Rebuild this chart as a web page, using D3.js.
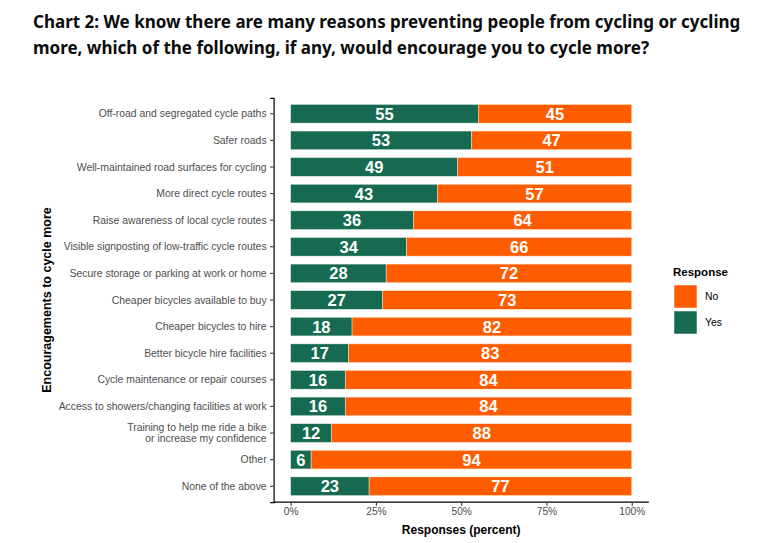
<!DOCTYPE html>
<html>
<head>
<meta charset="utf-8">
<script src="https://cdn.jsdelivr.net/npm/d3@7"></script>
<style>
  body { margin: 0; background: #fff; }
  svg { display: block; }
</style>
</head>
<body>
<script>
// categories, top to bottom
const categories = [
  'Off-road and segregated cycle paths',
  'Safer roads',
  'Well-maintained road surfaces for cycling',
  'More direct cycle routes',
  'Raise awareness of local cycle routes',
  'Visible signposting of low-traffic cycle routes',
  'Secure storage or parking at work or home',
  'Cheaper bicycles available to buy',
  'Cheaper bicycles to hire',
  'Better bicycle hire facilities',
  'Cycle maintenance or repair courses',
  'Access to showers/changing facilities at work',
  'Training to help me ride a bike\nor increase my confidence',
  'Other',
  'None of the above'
];
const yesValues = [55, 53, 49, 43, 36, 34, 28, 27, 18, 17, 16, 16, 12, 6, 23];
const noValues = [45, 47, 51, 57, 64, 66, 72, 73, 82, 83, 84, 84, 88, 94, 77];
const xTicks = [0, 25, 50, 75, 100];
const legendKeys = ['No', 'Yes'];

const width = 776, height = 543;
const colors = { Yes: '#156a51', No: '#ff5c00' };

const svg = d3.select('body').append('svg')
  .attr('width', width)
  .attr('height', height);

// title
const title = svg.append('text')
  .attr('x', 33)
  .attr('font-family', 'Noto Sans, sans-serif')
  .attr('font-weight', 'bold')
  .attr('font-size', 17)
  .attr('fill', '#0b0c0c');
title.append('tspan').attr('x', 33).attr('y', 28)
  .text('Chart 2: We know there are many reasons preventing people from cycling or cycling');
title.append('tspan').attr('x', 33).attr('y', 54)
  .text('more, which of the following, if any, would encourage you to cycle more?');

const rows = categories.map((c, i) => ({ cat: c, yes: yesValues[i], no: noValues[i] }));

const x = d3.scaleLinear().domain([-5, 105]).range([273.6, 648.8]);
const y = d3.scaleBand().domain(categories).range([97.8, 502.2])
  .paddingInner(0.3).paddingOuter(0.25);

const font = 'Liberation Sans, Arial, sans-serif';
const g = svg.append('g');

// bars
const bar = g.selectAll('g.bar').data(rows).join('g').attr('class', 'bar');
bar.append('rect')
  .attr('x', d => x(0))
  .attr('y', d => y(d.cat))
  .attr('width', d => x(d.yes) - x(0))
  .attr('height', y.bandwidth())
  .attr('fill', colors.Yes)
  .attr('stroke', '#dfe9e4')
  .attr('stroke-width', 0.5);
bar.append('rect')
  .attr('x', d => x(d.yes))
  .attr('y', d => y(d.cat))
  .attr('width', d => x(100) - x(d.yes))
  .attr('height', y.bandwidth())
  .attr('fill', colors.No)
  .attr('stroke', '#ffe3d0')
  .attr('stroke-width', 0.5);

// value labels
bar.append('text')
  .attr('x', d => x(d.yes / 2))
  .attr('y', d => y(d.cat) + y.bandwidth() / 2)
  .attr('dy', '0.36em')
  .attr('text-anchor', 'middle')
  .attr('font-family', font)
  .attr('font-weight', 'bold')
  .attr('font-size', 16.5)
  .attr('fill', '#fff')
  .text(d => d.yes);
bar.append('text')
  .attr('x', d => x(d.yes + d.no / 2))
  .attr('y', d => y(d.cat) + y.bandwidth() / 2)
  .attr('dy', '0.36em')
  .attr('text-anchor', 'middle')
  .attr('font-family', font)
  .attr('font-weight', 'bold')
  .attr('font-size', 16.5)
  .attr('fill', '#fff')
  .text(d => d.no);

// y axis
const yAxis = g.append('g')
  .attr('transform', `translate(${x.range()[0]},0)`)
  .call(d3.axisLeft(y).tickSize(3.5).tickPadding(3).tickFormat(''));
yAxis.select('.domain').attr('stroke', '#000').attr('stroke-width', 1.2);
yAxis.selectAll('.tick line').attr('stroke', '#333').attr('stroke-width', 1.1);
yAxis.selectAll('.tick').each(function(d) {
  const lines = d.split('\n');
  const t = d3.select(this).append('text')
    .attr('x', -7)
    .attr('text-anchor', 'end')
    .attr('font-family', font)
    .attr('font-size', 10.4)
    .attr('fill', '#4d4d4d');
  lines.forEach((l, i) => {
    t.append('tspan')
      .attr('x', -7)
      .attr('y', (i - (lines.length - 1) / 2) * 11.5)
      .attr('dy', '0.35em')
      .text(l);
  });
});

// x axis
const xAxis = g.append('g')
  .attr('transform', `translate(0,${y.range()[1]})`)
  .call(d3.axisBottom(x).tickValues(xTicks).tickSize(3.5).tickPadding(2)
    .tickFormat(d => d + '%'));
xAxis.select('.domain').attr('stroke', '#000').attr('stroke-width', 1.2)
  .attr('d', `M${x.range()[0]},0H${x.range()[1]}`);
xAxis.selectAll('.tick line').attr('stroke', '#333').attr('stroke-width', 1.1);
xAxis.selectAll('.tick text')
  .attr('font-family', font)
  .attr('font-size', 10.2)
  .attr('fill', '#4d4d4d');

// axis titles
svg.append('text')
  .attr('x', x(50))
  .attr('y', 534)
  .attr('text-anchor', 'middle')
  .attr('font-family', font)
  .attr('font-weight', 'bold')
  .attr('font-size', 12)
  .text('Responses (percent)');
svg.append('text')
  .attr('transform', `translate(51,${(y.range()[0] + y.range()[1]) / 2}) rotate(-90)`)
  .attr('text-anchor', 'middle')
  .attr('font-family', font)
  .attr('font-weight', 'bold')
  .attr('font-size', 12.5)
  .text('Encouragements to cycle more');

// legend
const legend = svg.append('g').attr('transform', 'translate(674,0)');
legend.append('text')
  .attr('x', -1)
  .attr('y', 276)
  .attr('font-family', font)
  .attr('font-weight', 'bold')
  .attr('font-size', 11.5)
  .text('Response');
legendKeys.forEach((k, i) => {
  legend.append('rect')
    .attr('x', 0)
    .attr('y', 285 + i * 26)
    .attr('width', 23)
    .attr('height', 23)
    .attr('fill', colors[k])
    .attr('stroke', '#fff')
    .attr('stroke-width', 0.5);
  legend.append('text')
    .attr('x', 31)
    .attr('y', 296.5 + i * 26)
    .attr('dy', '0.35em')
    .attr('font-family', font)
    .attr('font-size', 10.4)
    .attr('fill', '#000')
    .text(k);
});
</script>
</body>
</html>
